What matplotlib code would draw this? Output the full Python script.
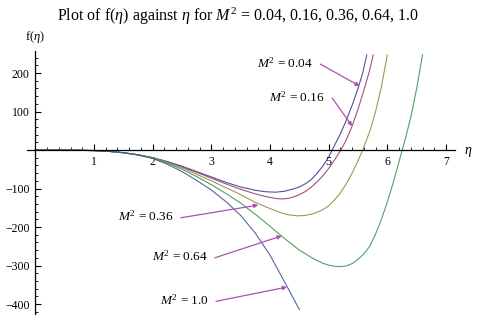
import matplotlib
matplotlib.use('Agg')
import matplotlib.pyplot as plt
from matplotlib.ticker import FixedLocator

plt.rcParams['font.family'] = ['Liberation Serif', 'DejaVu Serif']
plt.rcParams['mathtext.fontset'] = 'custom'
plt.rcParams['mathtext.rm'] = 'Liberation Serif'
plt.rcParams['mathtext.it'] = 'Liberation Serif:italic'

# ---- data ----
m2_labels = ["0.04", "0.16", "0.36", "0.64", "1.0"]

eta_1 = [0, 0.25, 0.5, 0.75, 1, 1.25, 1.5, 1.75, 2, 2.25, 2.5, 2.75, 3, 3.25, 3.5, 3.75, 3.9, 4, 4.1,
         4.25, 4.4, 4.5, 4.6, 4.7, 4.8, 4.9, 5.0, 5.1, 5.2, 5.3, 5.4, 5.5, 5.58, 5.65]
f_1 = [0, 0, -0.2, -0.6, -1.5, -3.5, -7, -12.5, -20, -30, -42, -56, -70, -84, -96, -104.5, -108, -109, -109.5,
       -107, -101, -96, -88, -77, -61, -42, -18, 12, 42, 77, 116, 160, 200, 247]

eta_2 = [0, 0.25, 0.5, 0.75, 1, 1.25, 1.5, 1.75, 2, 2.25, 2.5, 2.75, 3, 3.25, 3.5, 3.75, 3.9, 4, 4.1, 4.2,
         4.3, 4.4, 4.5, 4.6, 4.7, 4.8, 4.9, 5.0, 5.1, 5.2, 5.3, 5.4, 5.5, 5.6, 5.7, 5.76]
f_2 = [0, 0, -0.2, -0.6, -1.5, -3.5, -7, -12.5, -20, -31, -44, -58, -73, -88, -102, -114, -120, -123, -126, -127,
       -126, -122, -116, -108, -97, -83, -67, -48, -26, -2, 26, 62, 106, 155, 208, 247]

eta_3 = [0, 0.25, 0.5, 0.75, 1, 1.25, 1.5, 1.75, 2, 2.25, 2.5, 2.75, 3, 3.25, 3.5, 3.75, 4, 4.15, 4.3, 4.48,
         4.6, 4.75, 4.9, 5.0, 5.1, 5.2, 5.3, 5.4, 5.5, 5.58, 5.7, 5.8, 5.9, 6.0]
f_3 = [0, 0, -0.2, -0.6, -1.5, -3.5, -7, -12.5, -20, -32, -46, -63, -80, -98, -116, -136, -152, -161, -168, -171,
       -170, -165, -155, -145, -130, -111, -88, -60, -28, 0, 48, 100, 165, 247]

eta_4 = [0, 0.25, 0.5, 0.75, 1, 1.25, 1.5, 1.75, 2, 2.25, 2.5, 2.75, 3, 3.25, 3.5, 3.75, 4, 4.25, 4.5, 4.75,
         4.9, 5.0, 5.1, 5.19, 5.3, 5.4, 5.5, 5.6, 5.7, 5.8, 5.9, 6.0, 6.1, 6.2, 6.3, 6.4, 6.5, 6.6]
f_4 = [0, 0, -0.2, -0.6, -1.5, -3.5, -7, -12.5, -21, -34, -50, -69, -90, -113, -138, -167, -198, -230, -260, -283,
       -294, -299, -302, -303, -301, -295, -284, -270, -250, -218, -180, -135, -85, -30, 25, 85, 160, 247]

eta_5 = [0, 0.25, 0.5, 0.75, 1, 1.25, 1.5, 1.75, 2, 2.25, 2.5, 2.75, 3, 3.25, 3.5, 3.75, 4, 4.25, 4.5]
f_5 = [0, 0, -0.2, -0.6, -1.5, -3.5, -7, -13, -22, -37, -56, -79, -104, -134, -170, -216, -273, -343, -414]

x_ticks = [1, 2, 3, 4, 5, 6, 7]
y_ticks = [-400, -300, -200, -100, 100, 200]

# annotation anchors (label end, arrow head) in data coords
label_xy = [(4.74, 226), (4.94, 138), (2.36, -173), (2.94, -277), (2.96, -390)]
head_xy = [(5.53, 166), (5.40, 62), (3.80, -143), (4.20, -223), (4.29, -356)]

colors = [(0.24, 0.24, 0.6), (0.6, 0.24, 0.4428), (0.6, 0.547, 0.24),
          (0.24, 0.6, 0.33), (0.24, 0.3484, 0.6)]
arrow_color = '#b050b0'

fig = plt.figure(figsize=(4.88, 3.27), dpi=100)
ax = fig.add_axes([0, 0, 1, 1])
ax.set_xlim(-0.602, 7.716)
ax.set_ylim(-459.7, 389.6)

for eta, f, c in zip([eta_1, eta_2, eta_3, eta_4, eta_5],
                     [f_1, f_2, f_3, f_4, f_5], colors):
    ax.plot(eta, f, color=c, lw=0.8, solid_joinstyle='round', alpha=0.9)

for lab, (lx, ly), (hx, hy) in zip(m2_labels, label_xy, head_xy):
    ax.text(lx, ly, r'$M^2$ = ' + lab, ha='right', va='center', fontsize=9.5)
    ax.annotate('', xy=(hx, hy), xytext=(lx + 0.12, ly - 3),
                arrowprops=dict(arrowstyle='-|>', color=arrow_color, lw=0.9,
                                mutation_scale=6, shrinkA=0, shrinkB=0))

# axes through origin
for s in ['top', 'right']:
    ax.spines[s].set_visible(False)
ax.spines['left'].set_position(('data', 0))
ax.spines['bottom'].set_position(('data', 0))
ax.spines['left'].set_bounds(-426, 258)
ax.spines['bottom'].set_bounds(-0.14, 7.15)
for s in ['left', 'bottom']:
    ax.spines[s].set_linewidth(0.9)

ax.xaxis.set_major_locator(FixedLocator(x_ticks))
ax.xaxis.set_minor_locator(FixedLocator([i * 0.2 for i in range(1, 36) if i % 5 != 0]))
ax.yaxis.set_major_locator(FixedLocator(y_ticks))
ax.yaxis.set_minor_locator(FixedLocator([v for v in range(-420, 260, 20) if v % 100 != 0]))
ax.tick_params(axis='both', which='major', direction='in', length=4, width=0.8,
               labelsize=8.5, pad=4)
ax.tick_params(axis='both', which='minor', direction='in', length=2.5, width=0.6)
ax.set_xticklabels([str(v) for v in x_ticks])
ax.set_yticklabels(['\u2212' + str(-v) if v < 0 else str(v) for v in y_ticks])

ax.text(7.37, -5, r'$\eta$', fontsize=10, ha='center', va='center')
ax.text(0.0, 293, r'f($\eta$)', fontsize=9, ha='center', va='center')

fig.text(0.488, 0.951, r'Plot of f($\eta$) against $\eta$ for $M^2$ = 0.04, 0.16, 0.36, 0.64, 1.0',
         ha='center', va='center', fontsize=11.5)

fig.savefig('out.png', dpi=100)
